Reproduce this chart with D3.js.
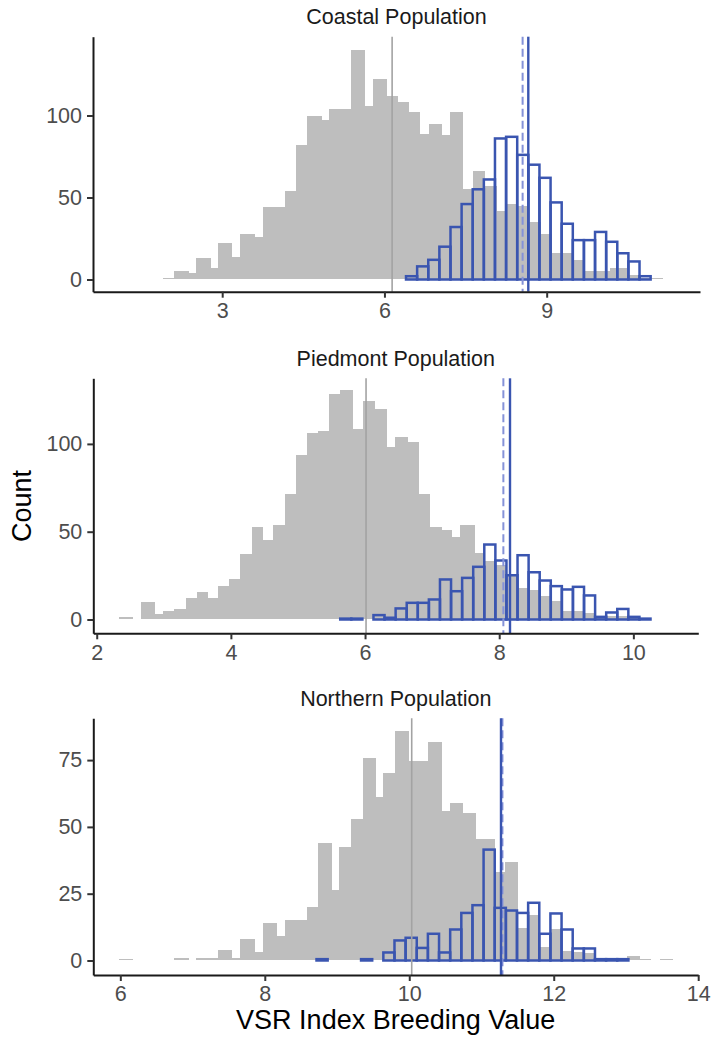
<!DOCTYPE html>
<html>
<head>
<meta charset="utf-8">
<script src="https://cdn.jsdelivr.net/npm/d3@7"></script>
<style>
  body { margin: 0; background: #ffffff; }
  text { font-family: "Liberation Sans", Arial, Helvetica, sans-serif; }
</style>
</head>
<body>
<svg id="chart" width="712" height="1044"></svg>
<script>
// ---------------- DATA ----------------
const panelTitles = ["Coastal Population", "Piedmont Population", "Northern Population"];
const xTitle = "VSR Index Breeding Value";
const yTitle = "Count";

const xTicks1 = [3, 6, 9];
const xTicks2 = [2, 4, 6, 8, 10];
const xTicks3 = [6, 8, 10, 12, 14];
const yTicks1 = [0, 50, 100];
const yTicks2 = [0, 50, 100];
const yTicks3 = [0, 25, 50, 75];

const xDomain1 = [0.611, 11.835];
const xDomain2 = [1.949, 10.968];
const xDomain3 = [5.626, 14.0];
const yDomain1 = [-7.44, 148.05];
const yDomain2 = [-7.86, 137.36];
const yDomain3 = [-5.43, 90.64];

// gray histogram (all candidates): bin edges and counts
const grayEdges1 = [1.911, 2.109, 2.386, 2.516, 2.787, 2.928, 3.187, 3.329, 3.607, 3.748, 4.161, 4.365, 4.562, 4.839, 4.981, 5.376, 5.647, 5.782, 6.041, 6.257, 6.460, 6.658, 6.818, 7.064, 7.212, 7.459, 7.631, 7.866, 8.075, 8.260, 8.470, 8.667, 8.889, 9.098, 9.505, 9.715, 10.171, 10.479, 10.726, 11.145];
const grayCounts1 = [1, 5, 4, 13, 7, 22, 14, 28, 26, 44, 54, 82, 100, 97, 104, 140, 106, 122, 112, 108, 102, 89, 95, 88, 102, 55, 66, 57, 42, 46, 45, 35, 28, 16, 12, 5, 7, 3, 1];

const grayEdges2 = [2.337, 2.546, 2.660, 2.869, 2.983, 3.157, 3.326, 3.490, 3.664, 3.813, 3.977, 4.136, 4.310, 4.484, 4.633, 4.807, 4.971, 5.130, 5.304, 5.468, 5.627, 5.826, 5.965, 6.149, 6.323, 6.447, 6.646, 6.810, 6.969, 7.143, 7.292, 7.416, 7.640, 7.789, 7.943, 8.102, 8.271, 8.440, 8.599, 8.768, 8.936, 9.096, 9.264, 9.433, 9.593, 9.761, 9.930, 10.099, 10.258];
const grayCounts2 = [1.5, 0, 10, 3.4, 4.7, 5.7, 12.3, 15.7, 12.3, 19.3, 23.3, 37.4, 52.6, 45.2, 54.1, 71.5, 93.9, 106.3, 107.2, 128.7, 130.6, 108.3, 124.7, 119.9, 98.1, 104, 101.1, 71.5, 52.8, 50.7, 47.1, 54.1, 38, 33.2, 31.3, 25.6, 18, 17, 13.3, 10.4, 5.1, 5.1, 3.8, 1.9, 2, 2, 1.3];

const grayEdges3 = [5.987, 6.180, 6.748, 6.951, 7.048, 7.357, 7.551, 7.657, 7.865, 7.971, 8.165, 8.280, 8.580, 8.741, 8.926, 9.032, 9.189, 9.355, 9.540, 9.641, 9.803, 10.001, 10.264, 10.449, 10.564, 10.748, 10.924, 11.187, 11.325, 11.510, 11.648, 11.810, 11.948, 12.110, 12.271, 12.410, 12.571, 13.010, 13.194, 13.342, 13.471, 13.655];
const grayCounts3 = [0.4, 0, 0.75, 0, 0.75, 4, 0.75, 7.9, 3.2, 14.1, 9.1, 15.1, 20.1, 44, 26.2, 42.4, 53, 75.8, 61.1, 70.2, 85.8, 74.6, 81.8, 55.9, 59, 55.2, 45.3, 33.2, 36.9, 12, 17, 5, 11.6, 3.7, 3.2, 2.9, 1, 1.6, 0.4, 0, 0.4];

// blue histogram (selected): first bin start, bin width, counts
const blueStart1 = 6.399, blueWidth1 = 0.2056;
const blueCounts1 = [2, 8, 12, 20, 32, 46, 55, 61, 86, 87, 76, 70, 62, 47, 34, 24, 24, 29, 23, 16, 11, 2];
const blueStart2 = 5.630, blueWidth2 = 0.1652;
const blueCounts2 = [0.5, 0.5, 0, 2.5, 1, 6.3, 9.5, 9.5, 11.4, 22.8, 16.1, 23.7, 30, 42.7, 33.6, 25.2, 36.6, 26.9, 22.2, 19, 17.1, 18.6, 13.7, 1.5, 4, 6, 1.5, 0.5];
const blueStart3 = 8.716, blueWidth3 = 0.1542;
const blueCounts3 = [0.5, 0, 0, 0, 0.5, 0, 3, 7.5, 8.5, 4.7, 10, 3, 11.6, 17.8, 20.7, 41.5, 19.7, 18.7, 17.8, 21.6, 10, 17.6, 11.6, 4.5, 4.5, 0.5, 0.5, 0.5];

// means: [gray mean, blue mean (solid), blue reference (dashed)]
const means1 = [6.142, 8.660, 8.555];
const means2 = [6.015, 8.161, 8.062];
const means3 = [10.034, 11.270, 11.290];

// ---------------- DRAW ----------------
const svg = d3.select("#chart");
const GRAY = "#bebebe", GRAYLINE = "#a3a3a3", BLUE = "#3a55b0", BLUEDASH = "#8592d8";

const panels = [
  { title: panelTitles[0], xd: xDomain1, yd: yDomain1, xt: xTicks1, yt: yTicks1, ge: grayEdges1, gc: grayCounts1, bs: blueStart1, bw: blueWidth1, bc: blueCounts1, m: means1, box: { l: 93, r: 700, t: 36.7, b: 291.7 } },
  { title: panelTitles[1], xd: xDomain2, yd: yDomain2, xt: xTicks2, yt: yTicks2, ge: grayEdges2, gc: grayCounts2, bs: blueStart2, bw: blueWidth2, bc: blueCounts2, m: means2, box: { l: 93.3, r: 698.3, t: 378.3, b: 633.3 } },
  { title: panelTitles[2], xd: xDomain3, yd: yDomain3, xt: xTicks3, yt: yTicks3, ge: grayEdges3, gc: grayCounts3, bs: blueStart3, bw: blueWidth3, bc: blueCounts3, m: means3, box: { l: 93.3, r: 698.2, t: 718.3, b: 975 } }
];

panels.forEach(p => {
  const b = p.box;
  const x = d3.scaleLinear().domain(p.xd).range([b.l, b.r]);
  const y = d3.scaleLinear().domain(p.yd).range([b.b, b.t]);
  const g = svg.append("g");

  // gray bars
  const grayData = p.gc.map((c, i) => ({ x0: p.ge[i], x1: p.ge[i + 1], c })).filter(d => d.c > 0);
  g.append("g").selectAll("rect").data(grayData).join("rect")
    .attr("x", d => x(d.x0))
    .attr("width", d => x(d.x1) - x(d.x0))
    .attr("y", d => y(d.c))
    .attr("height", d => y(0) - y(d.c))
    .attr("fill", GRAY)
    .attr("shape-rendering", "crispEdges");

  // blue outlined bars
  const blueData = p.bc.map((c, i) => ({ x0: p.bs + i * p.bw, x1: p.bs + (i + 1) * p.bw, c })).filter(d => d.c > 0);
  g.append("g").selectAll("rect").data(blueData).join("rect")
    .attr("x", d => x(d.x0))
    .attr("width", d => x(d.x1) - x(d.x0))
    .attr("y", d => y(d.c))
    .attr("height", d => y(0) - y(d.c))
    .attr("fill", "none")
    .attr("stroke", BLUE)
    .attr("stroke-width", 2.5);

  // mean lines
  g.append("line").attr("x1", x(p.m[0])).attr("x2", x(p.m[0]))
    .attr("y1", b.t).attr("y2", b.b)
    .attr("stroke", GRAYLINE).attr("stroke-width", 1.6);
  g.append("line").attr("x1", x(p.m[2])).attr("x2", x(p.m[2]))
    .attr("y1", b.t).attr("y2", b.b)
    .attr("stroke", BLUEDASH).attr("stroke-width", 2).attr("stroke-dasharray", "8,4");
  g.append("line").attr("x1", x(p.m[1])).attr("x2", x(p.m[1]))
    .attr("y1", b.t).attr("y2", b.b)
    .attr("stroke", BLUE).attr("stroke-width", 2.4);

  // axes
  const ax = g.append("g").attr("transform", `translate(0,${b.b})`)
    .call(d3.axisBottom(x).tickValues(p.xt).tickSize(6).tickSizeOuter(0).tickPadding(5).tickFormat(d3.format("d")));
  const ay = g.append("g").attr("transform", `translate(${b.l},0)`)
    .call(d3.axisLeft(y).tickValues(p.yt).tickSize(6).tickSizeOuter(0).tickPadding(5).tickFormat(d3.format("d")));
  [ax, ay].forEach(a => {
    a.select(".domain").attr("stroke", "#1a1a1a").attr("stroke-width", 2);
    a.selectAll(".tick line").attr("stroke", "#333333").attr("stroke-width", 2);
    a.selectAll(".tick text").attr("fill", "#4d4d4d").attr("font-size", "21.5px")
      .style("font-family", '"Liberation Sans", Arial, sans-serif');
  });

  // panel title
  g.append("text").attr("x", (b.l + b.r) / 2).attr("y", b.t - 12.7)
    .attr("text-anchor", "middle").attr("font-size", "21.5px").attr("fill", "#1a1a1a")
    .text(p.title);
});

// axis titles
svg.append("text").attr("x", 395.7).attr("y", 1029)
  .attr("text-anchor", "middle").attr("font-size", "27px").attr("fill", "#000")
  .text(xTitle);
svg.append("text").attr("transform", "translate(31,506) rotate(-90)")
  .attr("text-anchor", "middle").attr("font-size", "27px").attr("fill", "#000")
  .text(yTitle);
</script>
</body>
</html>
